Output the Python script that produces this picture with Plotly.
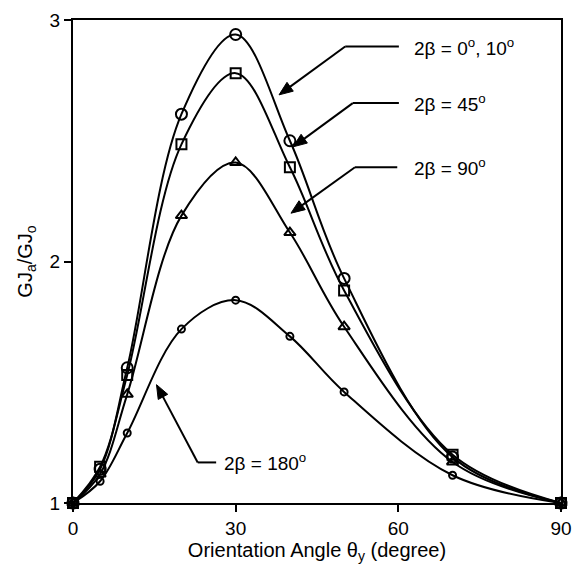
import math
import plotly.graph_objects as go

# ---- data ----
angle = [0, 5, 10, 20, 30, 40, 50, 70, 90]
beta_0_10 = [1.0, 1.14, 1.56, 2.61, 2.94, 2.50, 1.93, 1.19, 1.0]
beta_45 = [1.0, 1.15, 1.53, 2.485, 2.78, 2.39, 1.88, 1.20, 1.0]
beta_90 = [1.0, 1.12, 1.45, 2.19, 2.41, 2.12, 1.73, 1.17, 1.0]
beta_180 = [1.0, 1.09, 1.29, 1.72, 1.84, 1.69, 1.46, 1.115, 1.0]

x_ticks = [0, 30, 60, 90]
y_ticks = [1, 2, 3]

labels = ["2β = 0<sup>o</sup>, 10<sup>o</sup>", "2β = 45<sup>o</sup>",
          "2β = 90<sup>o</sup>", "2β = 180<sup>o</sup>"]

FONT = "Liberation Sans, Arial, Helvetica, sans-serif"

W, H = 582, 570
ML, MR, MT, MB = 73, 10, 15, 67
XR = (0, 90)
YR = (1, 3)

fig = go.Figure()

series = [
    (beta_0_10, "circle-open", 11),
    (beta_45, "square-open", 10),
    (beta_90, "triangle-up-open", 10),
    (beta_180, "circle-open", 7),
]
for (vals, sym, sz), name in zip(series, labels):
    fig.add_trace(go.Scatter(
        x=angle, y=vals, mode="lines+markers", name=name,
        line=dict(color="black", width=2, shape="spline", smoothing=1.0),
        marker=dict(symbol=sym, size=sz, color="black",
                    line=dict(color="black", width=2)),
        cliponaxis=False, showlegend=False,
    ))

# leader geometry: (tip_x, tip_y, bend_x, bend_y, end_x, text_x)
leaders = [
    (38.0, 2.69, 50.2, 2.89, 60.1, 62.6),
    (40.6, 2.475, 51.6, 2.656, 60.1, 62.6),
    (40.2, 2.20, 52.0, 2.39, 59.8, 62.6),
    (15.4, 1.49, 23.0, 1.168, 26.4, 27.4),
]

# pixel scales for drawing arrowheads with correct proportions
sx = (W - ML - MR) / (XR[1] - XR[0])
sy = (H - MT - MB) / (YR[1] - YR[0])
HEAD_L, HEAD_W = 14.0, 5.5

annotations = []
shapes = []
for (tx, ty, bx, by, ex, txt_x), lab in zip(leaders, labels):
    # horizontal part of the leader
    shapes.append(dict(type="line", xref="x", yref="y", x0=bx, y0=by,
                       x1=ex, y1=by, line=dict(color="black", width=2)))
    # diagonal shaft to the base of the head
    dxp, dyp = (tx - bx) * sx, (ty - by) * sy
    d = math.hypot(dxp, dyp)
    ux, uy = dxp / d, dyp / d
    basex, basey = tx * sx - ux * HEAD_L, ty * sy - uy * HEAD_L
    px_, py_ = -uy, ux
    c1 = ((basex + px_ * HEAD_W) / sx, (basey + py_ * HEAD_W) / sy)
    c2 = ((basex - px_ * HEAD_W) / sx, (basey - py_ * HEAD_W) / sy)
    shapes.append(dict(type="line", xref="x", yref="y", x0=bx, y0=by,
                       x1=(basex + ux * 2) / sx, y1=(basey + uy * 2) / sy,
                       line=dict(color="black", width=2)))
    shapes.append(dict(
        type="path", xref="x", yref="y",
        path=f"M {tx} {ty} L {c1[0]} {c1[1]} L {c2[0]} {c2[1]} Z",
        fillcolor="black", line=dict(color="black", width=1)))
    annotations.append(dict(
        x=txt_x, y=by, xref="x", yref="y", text=lab, showarrow=False,
        xanchor="left", yanchor="middle",
        font=dict(family=FONT, size=19, color="black")))

fig.update_layout(
    width=W, height=H,
    margin=dict(l=ML, r=MR, t=MT, b=MB),
    paper_bgcolor="white", plot_bgcolor="white",
    font=dict(family=FONT, size=19, color="black"),
    annotations=annotations, shapes=shapes,
)
fig.update_xaxes(
    range=list(XR), tickvals=x_ticks, ticktext=[str(v) for v in x_ticks],
    showgrid=False, zeroline=False, showline=True, linecolor="black",
    linewidth=2, mirror=True, ticks="outside", ticklen=7, tickwidth=2,
    tickcolor="black", tickfont=dict(size=19),
    title=dict(text="Orientation Angle θ<sub>y</sub> (degree)",
               font=dict(size=20), standoff=4),
)
fig.update_yaxes(
    range=list(YR), tickvals=y_ticks, ticktext=[str(v) for v in y_ticks],
    showgrid=False, zeroline=False, showline=True, linecolor="black",
    linewidth=2, mirror=True, ticks="outside", ticklen=7, tickwidth=2,
    tickcolor="black", tickfont=dict(size=19),
    title=dict(text="GJ<sub>a</sub>/GJ<sub>o</sub>", font=dict(size=20),
               standoff=12),
)

fig.write_html("out.html")
